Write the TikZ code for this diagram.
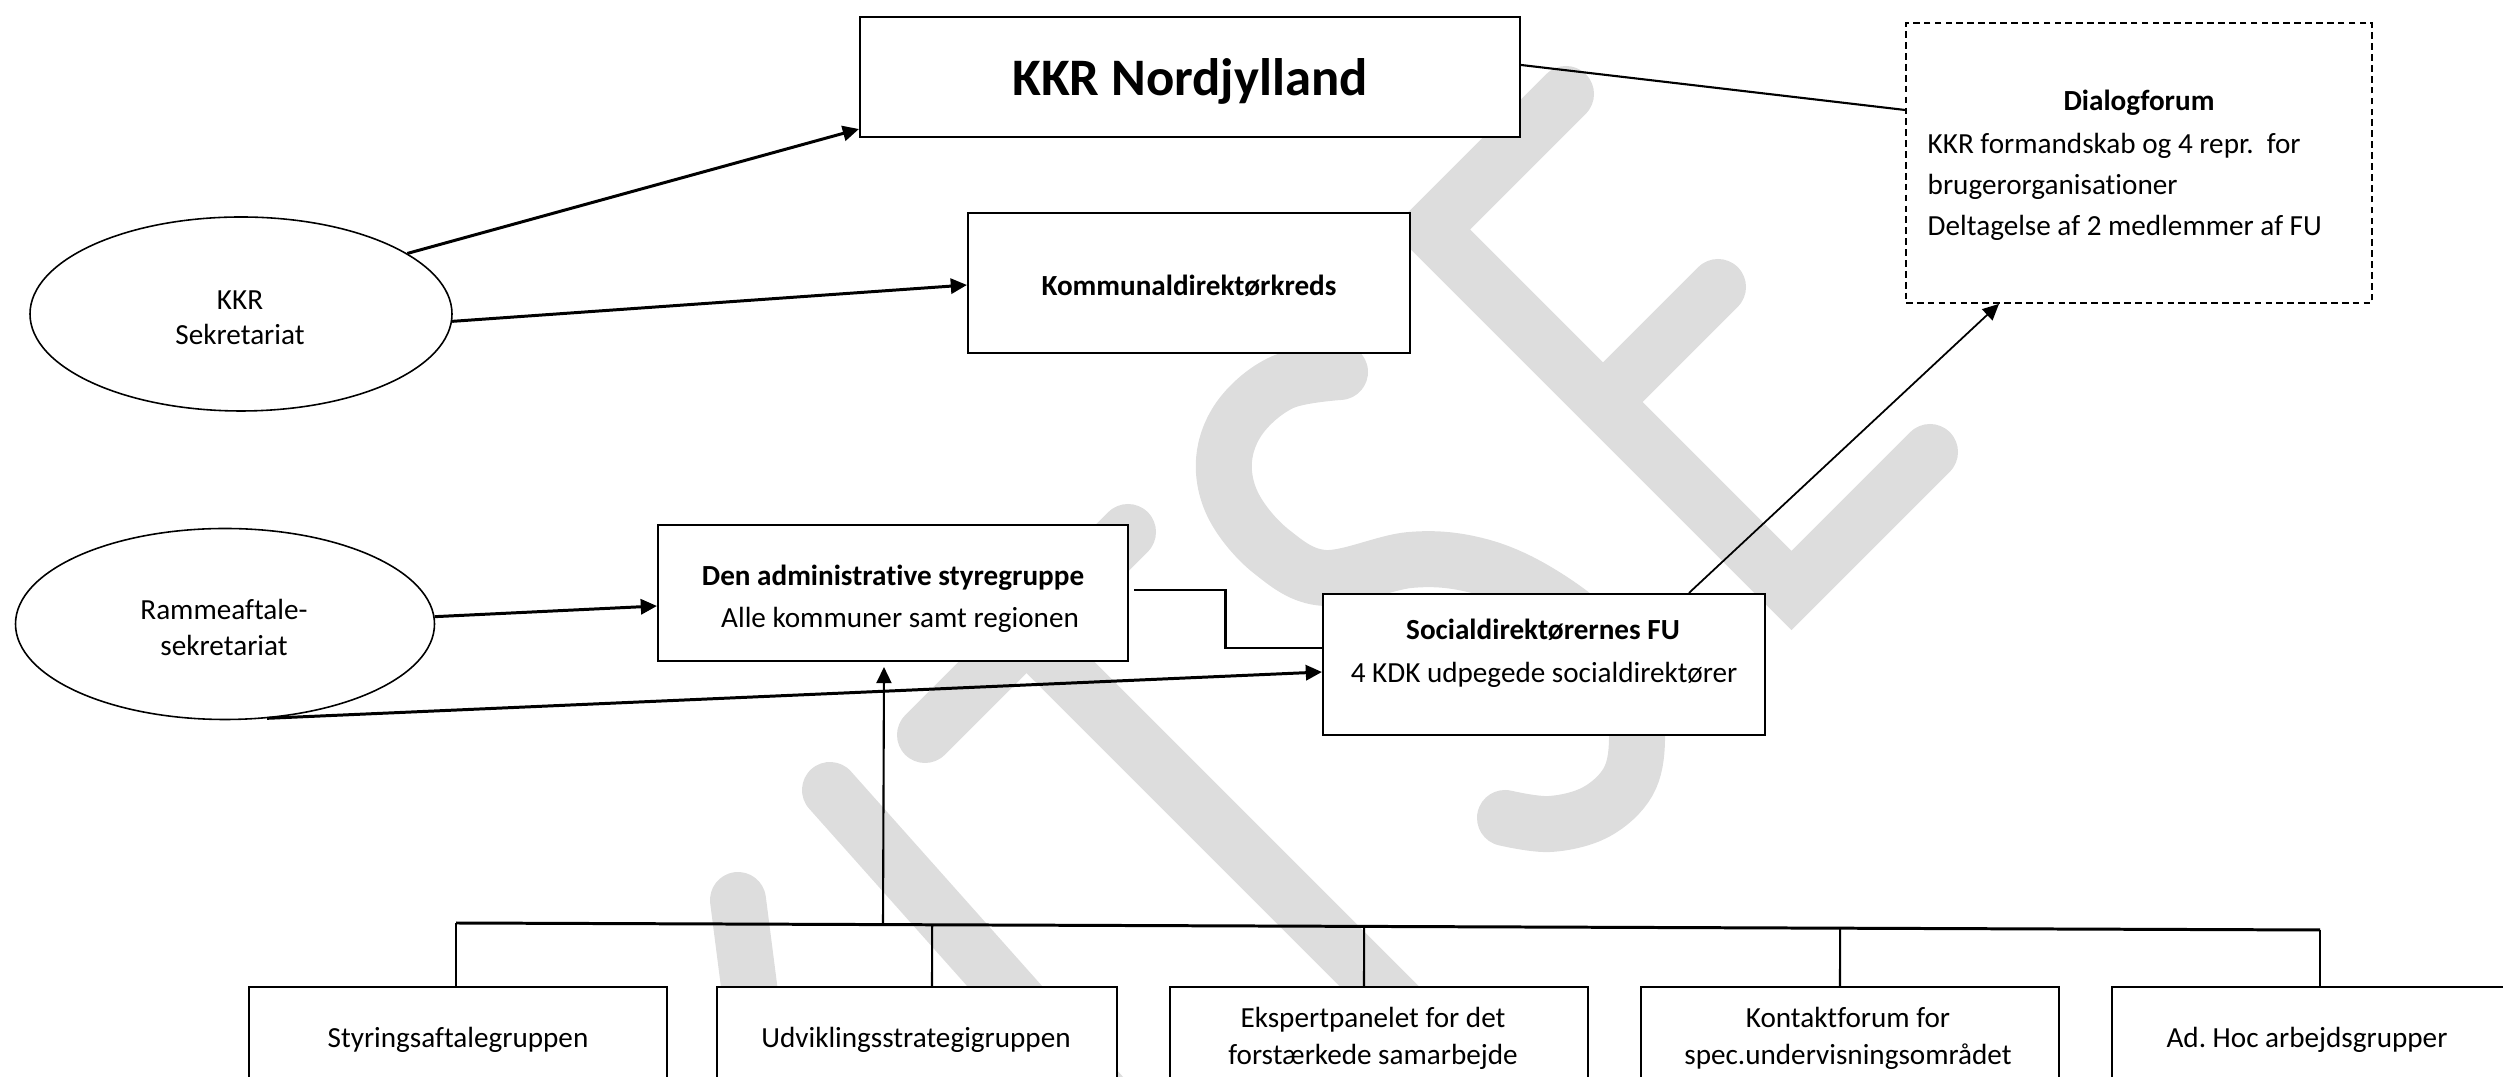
\documentclass[tikz,border=0pt]{standalone}
\usepackage{fontspec}
\setmainfont{Carlito}[Ligatures=NoCommon]
\usetikzlibrary{arrows.meta,calc,shapes.geometric}
\definecolor{wm}{RGB}{221,221,221}
\begin{document}
\begin{tikzpicture}[x=0.1mm,y=-0.1mm,
  box/.style={draw, fill=white, line width=0.6pt, inner sep=0pt},
  ell/.style={ellipse, draw, fill=white, line width=0.45pt, inner sep=0pt},
  txt/.style={font=\fontsize{8.3}{10}\selectfont, anchor=base, inner sep=0pt},
  btxt/.style={txt, font=\fontsize{8.3}{10}\selectfont\bfseries},
  arr/.style={line width=0.85pt, -{Triangle[length=4.6pt,width=4.3pt]}},
  thinarr/.style={line width=0.5pt, -{Triangle[length=4.6pt,width=4.3pt]}},
  conn/.style={line width=0.6pt},
  wmstroke/.style={draw=wm, line width=5.6mm, line cap=round, line join=miter},
]
\useasboundingbox (0,0) rectangle (2503,1077);
\clip (0,0) rectangle (2503,1077);

% watermark
\draw[wmstroke] (1566,94) -- (1430.5,229.5) -- (1791.5,590.5) -- (1930,452);
\draw[wmstroke] (1603,402) -- (1718,287);
\draw[wmstroke] (925,735) -- (1128,532);
\draw[wmstroke] (1026,633) -- (1500,1107);
\draw[wmstroke] (830,790) -- (1115,1110);
\draw[wmstroke] (738,900) -- (765,1110);
\draw[wmstroke] plot[smooth,tension=0.6] coordinates {(1340,372) (1283,382) (1241,416) (1224,460) (1234,507) (1272,552) (1325,578) (1410,560) (1475,565) (1535,590) (1595,635) (1630,690) (1637,740) (1628,782) (1596,812) (1550,824) (1505,818)};

% boxes
\node[box, minimum width=66mm, minimum height=12mm] (kkr) at (1190,77) {};
\node[box, minimum width=44.2mm, minimum height=14mm] (kom) at (1189,283) {};
\node[box, dash pattern=on 1.9pt off 1.2pt, line width=0.5pt, minimum width=46.6mm, minimum height=28mm] (dialog) at (2139,163) {};
\node[box, minimum width=47mm, minimum height=13.6mm] (admin) at (893,593) {};
\node[box, minimum width=44.2mm, minimum height=14.1mm] (soc) at (1544,664.5) {};
\node[ell, minimum width=42.2mm, minimum height=19.4mm] (kkrsek) at (241,314) {};
\node[ell, minimum width=41.9mm, minimum height=19.1mm] (ramme) at (225,624) {};
\node[box, minimum width=41.8mm, minimum height=20mm] (b1) at (458,1087) {};
\node[box, minimum width=40mm, minimum height=20mm] (b2) at (917,1087) {};
\node[box, minimum width=41.8mm, minimum height=20mm] (b3) at (1379,1087) {};
\node[box, minimum width=41.8mm, minimum height=20mm] (b4) at (1850,1087) {};
\node[box, minimum width=41.8mm, minimum height=20mm] (b5) at (2321,1087) {};

% texts
\node[txt, font=\fontsize{15}{18}\selectfont\bfseries] (tkkr) at (1190,96) {KKR Nordjylland};
\node[btxt] (tkom) at (1189,296) {Kommunaldirektørkreds};
\node[btxt] (tdia) at (2139,111) {Dialogforum};
\node[txt, anchor=base west] (tdia1) at (1927,154) {KKR formandskab og 4 repr.\ \ for};
\node[txt, anchor=base west] (tdia2) at (1927,195) {brugerorganisationer};
\node[txt, anchor=base west] (tdia3) at (1927,236) {Deltagelse af 2 medlemmer af FU};
\node[btxt] (tadm1) at (893,586) {Den administrative styregruppe};
\node[txt] (tadm2) at (900,628) {Alle kommuner samt regionen};
\node[btxt] (tsoc1) at (1543,640) {Socialdirektørernes FU};
\node[txt] (tsoc2) at (1544,683) {4 KDK udpegede socialdirektører};
\node[txt] (tks1) at (240,310) {KKR};
\node[txt] (tks2) at (240,345) {Sekretariat};
\node[txt] (tra1) at (224,620) {Rammeaftale-};
\node[txt] (tra2) at (224,656) {sekretariat};
\node[txt] (tb1) at (458,1048) {Styringsaftalegruppen};
\node[txt] (tb2) at (916,1048) {Udviklingsstrategigruppen};
\node[txt] (tb3a) at (1373,1028) {Ekspertpanelet for det};
\node[txt] (tb3b) at (1373,1065) {forstærkede samarbejde};
\node[txt] (tb4a) at (1848,1028) {Kontaktforum for};
\node[txt] (tb4b) at (1848,1065) {spec.undervisningsområdet};
\node[txt] (tb5) at (2307,1048) {Ad.\ Hoc arbejdsgrupper};

% connectors
\draw[arr] (kkrsek.20) -- ($(kkr.south west)+(0,-9)$);
\draw[arr] (kkrsek.-2) -- ($(kom.west)+(0,2)$);
\draw[arr] (ramme.2) -- ($(admin.west)+(0,13)$);
\draw[arr] (ramme.-66) -- ($(soc.west)+(0,7.5)$);
\draw[conn] ($(admin.east)+(5,-3)$) -| ($(admin.east)!.5!(soc.west)$) |- ($(soc.west)+(0,-16.5)$);
\draw[conn] ($(kkr.east)+(0,-12)$) -- ($(dialog.west)+(0,-53)$);
\draw[thinarr] ($(soc.north)+(145,0)$) -- ($(dialog.south)+(-140,0)$);

% bus
\coordinate (bL) at (456,923);
\coordinate (bR) at (2320,930);
\draw[line width=0.85pt] (bL) -- (bR);
\draw[conn] (bL) -- (bL |- b1.north);
\coordinate (d2) at ($(b2.north)+(15,0)$);
\draw[conn] (d2) -- ($(bL)!(d2)!(bR)$);
\coordinate (d3) at ($(b3.north)+(-15,0)$);
\draw[conn] (d3) -- ($(bL)!(d3)!(bR)$);
\coordinate (d4) at ($(b4.north)+(-10,0)$);
\draw[conn] (d4) -- ($(bL)!(d4)!(bR)$);
\draw[conn] (bR) -- (bR |- b5.north);
\coordinate (up) at ($(admin.south)+(-9,5)$);
\draw[thinarr, line width=0.6pt] ($(bL)!(up)!(bR)$) -- (up);
\end{tikzpicture}
\end{document}
